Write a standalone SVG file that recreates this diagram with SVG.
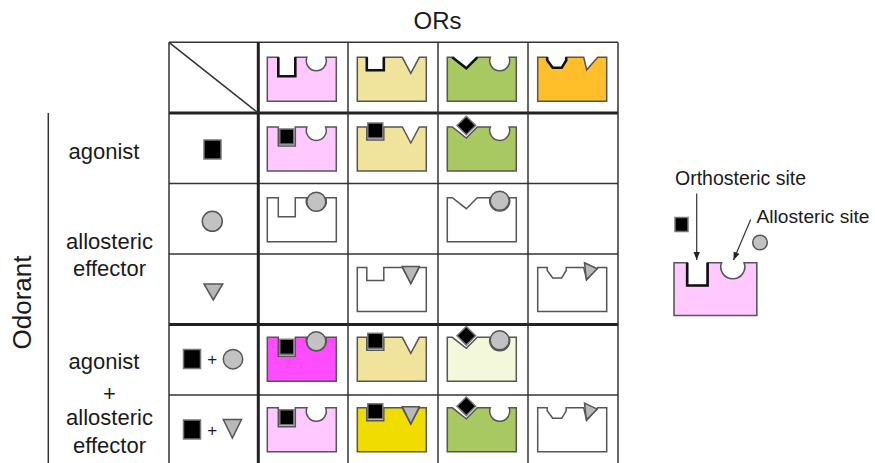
<svg xmlns="http://www.w3.org/2000/svg" xmlns:xlink="http://www.w3.org/1999/xlink" width="875" height="463" viewBox="0 0 875 463">
  <style>
    .txt { font-family: "Liberation Sans", Arial, sans-serif; fill: #1a1a1a; }
    .grid { stroke: #333; stroke-width: 1.5; fill: none; }
    .grid-b { stroke: #222; stroke-width: 3; fill: none; }
    .rc { stroke: #555; stroke-width: 1.5; stroke-linejoin: miter; }
    .pk { fill: none; stroke: #111; stroke-width: 2.6; stroke-linejoin: miter; }
    .sq { fill: #000; stroke: #777; stroke-width: 1.5; }
    .ci { fill: #c2c2c2; stroke: #555; stroke-width: 1.5; }
    .tr { fill: #b9b9b9; stroke: #555; stroke-width: 1.5; stroke-linejoin: miter; }
    .pink { fill: #ffc8ff; }
    .magenta { fill: #ff4cff; }
    .yellow { fill: #f0e39b; }
    .gold { fill: #f1dc00; }
    .green { fill: #a8c862; }
    .lime { fill: #f4f8da; }
    .orange { fill: #ffbf2b; }
    .white { fill: #fff; }
    .arrow { stroke: #333; stroke-width: 1.2; fill: none; }
  </style>
  <defs>
    <!-- receptor outlines, 69 x 44, origin at top-left -->
    <path id="rA" d="M0,0 H11 V19 H28 V0 H39.6 A10,10 0 1 0 58.4,0 H69 V44 H0 Z"/>
    <path id="rB" d="M0,0 H9.5 V13 H26.5 V0 H45 L53.5,16 L62,0 H69 V44 H0 Z"/>
    <path id="rC" d="M0,0 H5 L19,11 L30,0 H43 A10,10 0 1 0 61.8,0 H69 V44 H0 Z"/>
    <path id="rD" d="M0,0 H9.5 V3 L15,10.5 H24 L28.5,3 V0 H46 L49,12.5 L60,0 H69 V44 H0 Z"/>
    <!-- orthosteric pockets, drawn bold on unbound receptors -->
    <path id="pA" d="M11,0 V19 H28 V0"/>
    <path id="pB" d="M9.5,0 V13 H26.5 V0"/>
    <path id="pC" d="M5,0 L19,11 L30,0"/>
    <path id="pD" d="M9.5,0 V3 L15,10.5 H24 L28.5,3 V0"/>
    <!-- bound ligands, same frame as receptors -->
    <rect id="sqA" x="12.5" y="2" width="14" height="15"/>
    <rect id="sqB" x="10.5" y="-4" width="15" height="15"/>
    <path id="dmC" d="M19,-10.8 L28.3,-1.5 L19,7.8 L9.7,-1.5 Z"/>
    <circle id="ciA" cx="49" cy="4" r="9.5"/>
    <circle id="ciC" cx="52.4" cy="3" r="9.5"/>
    <path id="trB" d="M45,-1 L62,-1 L53.5,16 Z"/>
    <path id="trD" d="M46.8,-4.7 L59.6,1.3 L48.7,12 Z"/>
    <marker id="ah" viewBox="0 0 10 10" refX="10" refY="5" markerWidth="8" markerHeight="8" markerUnits="userSpaceOnUse" orient="auto">
      <path d="M0,1 L10,5 L0,9 Z" fill="#222"/>
    </marker>
  </defs>

  <rect width="875" height="463" fill="#fff"/>

  <!-- titles -->
  <text class="txt" x="437.5" y="28.5" font-size="24" text-anchor="middle">ORs</text>
  <text class="txt" transform="translate(31,302.5) rotate(-90)" font-size="26" text-anchor="middle">Odorant</text>
  <line x1="48.3" y1="113" x2="48.3" y2="470" class="grid"/>

  <!-- row labels -->
  <text class="txt" x="104" y="159" font-size="22" text-anchor="middle">agonist</text>
  <text class="txt" x="109.5" y="248.5" font-size="22" text-anchor="middle">allosteric</text>
  <text class="txt" x="109.5" y="276" font-size="22" text-anchor="middle">effector</text>
  <text class="txt" x="104" y="369" font-size="22" text-anchor="middle">agonist</text>
  <text class="txt" x="109.5" y="400.5" font-size="22" text-anchor="middle">+</text>
  <text class="txt" x="109.5" y="425" font-size="22" text-anchor="middle">allosteric</text>
  <text class="txt" x="109.5" y="453" font-size="22" text-anchor="middle">effector</text>

  <!-- table grid -->
  <g id="grid">
    <line class="grid" x1="169" y1="42.3" x2="618" y2="42.3"/>
    <line class="grid" x1="169" y1="183.5" x2="618" y2="183.5"/>
    <line class="grid" x1="169" y1="254" x2="618" y2="254"/>
    <line class="grid" x1="169" y1="395" x2="618" y2="395"/>
    <line class="grid-b" x1="169" y1="113" x2="618" y2="113"/>
    <line class="grid-b" x1="169" y1="324.5" x2="618" y2="324.5"/>
    <line class="grid" x1="169" y1="42.3" x2="169" y2="470"/>
    <line class="grid" x1="348" y1="42.3" x2="348" y2="470"/>
    <line class="grid" x1="438" y1="42.3" x2="438" y2="470"/>
    <line class="grid" x1="528" y1="42.3" x2="528" y2="470"/>
    <line class="grid" x1="618" y1="42.3" x2="618" y2="470"/>
    <line class="grid-b" x1="258.3" y1="42.3" x2="258.3" y2="470"/>
    <line class="grid" x1="169" y1="42.3" x2="258.3" y2="113"/>
  </g>

  <!-- odorant column -->
  <g id="odor-agonist"><rect class="sq" x="204" y="140" width="17" height="19"/></g>
  <g id="odor-circle"><circle class="ci" cx="212.3" cy="221.3" r="10"/></g>
  <g id="odor-triangle"><path class="tr" d="M204,284 L222.7,284 L213.3,300 Z"/></g>
  <g id="odor-agonist-circle">
    <rect class="sq" x="183.5" y="349.5" width="17" height="19"/>
    <text class="txt" x="212.3" y="365" font-size="17" text-anchor="middle" fill="#333">+</text>
    <circle class="ci" cx="233" cy="359.2" r="9.7"/>
  </g>
  <g id="odor-agonist-triangle">
    <rect class="sq" x="183.5" y="420" width="17" height="19"/>
    <text class="txt" x="212.3" y="436" font-size="17" text-anchor="middle" fill="#333">+</text>
    <path class="tr" d="M223.3,419.5 L241.5,419.5 L232.4,438 Z"/>
  </g>

  <!-- header: receptors alone -->
  <g id="or1-apo" transform="translate(267.3,57.3)"><use href="#rA" class="rc pink"/><use href="#pA" class="pk"/></g>
  <g id="or2-apo" transform="translate(357.3,57.3)"><use href="#rB" class="rc yellow"/><use href="#pB" class="pk"/></g>
  <g id="or3-apo" transform="translate(447.3,57.3)"><use href="#rC" class="rc green"/><use href="#pC" class="pk"/></g>
  <g id="or4-apo" transform="translate(537.7,57.3)"><use href="#rD" class="rc orange"/><use href="#pD" class="pk"/></g>

  <!-- agonist row -->
  <g id="or1-ag" transform="translate(267.3,127)"><use href="#rA" class="rc pink"/><use href="#sqA" class="sq"/></g>
  <g id="or2-ag" transform="translate(357.3,127)"><use href="#rB" class="rc yellow"/><use href="#sqB" class="sq"/></g>
  <g id="or3-ag" transform="translate(447.3,127)"><use href="#rC" class="rc green"/><use href="#dmC" class="sq"/></g>

  <!-- allosteric effector (circle) row -->
  <g id="or1-ci" transform="translate(267.3,197.7)"><use href="#rA" class="rc white"/><use href="#ciA" class="ci"/></g>
  <g id="or3-ci" transform="translate(447.3,197.7)"><use href="#rC" class="rc white"/><use href="#ciC" class="ci"/></g>

  <!-- allosteric effector (triangle) row -->
  <g id="or2-tr" transform="translate(357.3,267.5)"><use href="#rB" class="rc white"/><use href="#trB" class="tr"/></g>
  <g id="or4-tr" transform="translate(537.7,267.5)"><use href="#rD" class="rc white"/><use href="#trD" class="tr"/></g>

  <!-- agonist + circle row -->
  <g id="or1-ag-ci" transform="translate(267.3,337.3)"><use href="#rA" class="rc magenta"/><use href="#sqA" class="sq"/><use href="#ciA" class="ci"/></g>
  <g id="or2-ag-ci" transform="translate(357.3,337.3)"><use href="#rB" class="rc yellow"/><use href="#sqB" class="sq"/></g>
  <g id="or3-ag-ci" transform="translate(447.3,337.3)"><use href="#rC" class="rc lime"/><use href="#dmC" class="sq"/><use href="#ciC" class="ci"/></g>

  <!-- agonist + triangle row -->
  <g id="or1-ag-tr" transform="translate(267.3,407.8)"><use href="#rA" class="rc pink"/><use href="#sqA" class="sq"/></g>
  <g id="or2-ag-tr" transform="translate(357.3,407.8)"><use href="#rB" class="rc gold"/><use href="#sqB" class="sq"/><use href="#trB" class="tr"/></g>
  <g id="or3-ag-tr" transform="translate(447.3,407.8)"><use href="#rC" class="rc green"/><use href="#dmC" class="sq"/></g>
  <g id="or4-ag-tr" transform="translate(537.7,407.8)"><use href="#rD" class="rc white"/><use href="#trD" class="tr"/></g>

  <!-- key -->
  <g id="key-receptor" transform="translate(674,262.7) scale(1.2)">
    <use href="#rA" class="rc pink" style="stroke-width:1.3"/>
    <use href="#pA" class="pk" style="stroke-width:2.2"/>
  </g>
  <g id="key-agonist"><rect class="sq" x="675" y="217.5" width="13" height="14"/></g>
  <g id="key-effector"><circle class="ci" cx="760" cy="242.5" r="7.3"/></g>
  <g id="key-ortho-label"><text class="txt" x="675" y="185" font-size="19.5">Orthosteric site</text></g>
  <g id="key-allo-label"><text class="txt" x="756.5" y="223" font-size="19.2">Allosteric site</text></g>

  <g id="connectors">
    <line class="arrow" x1="696.7" y1="193.5" x2="696.7" y2="260" marker-end="url(#ah)"/>
    <line class="arrow" x1="750.7" y1="219.5" x2="733.5" y2="260" marker-end="url(#ah)"/>
  </g>
</svg>
